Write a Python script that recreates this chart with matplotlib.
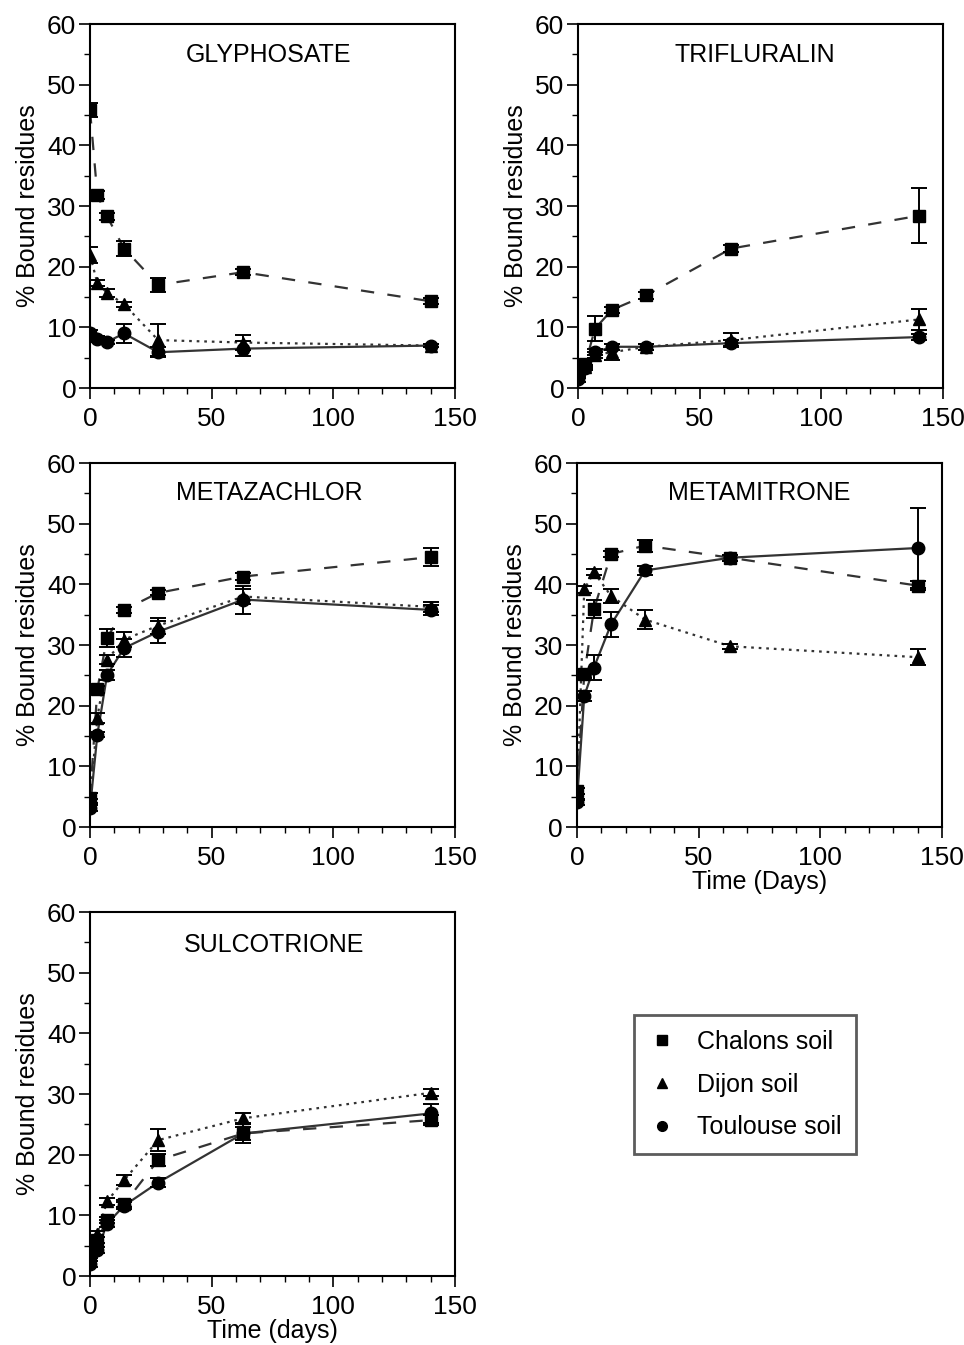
import numpy as np
import matplotlib
matplotlib.use('Agg')
import matplotlib.pyplot as plt
from matplotlib.lines import Line2D
from matplotlib.ticker import MultipleLocator

plt.rcParams['font.family'] = ['Liberation Sans', 'DejaVu Sans']

days = [0, 3, 7, 14, 28, 63, 140]
soils = ['Chalons soil', 'Dijon soil', 'Toulouse soil']

# GLYPHOSATE
gly_chalons = [45.8, 31.8, 28.3, 23.0, 17.0, 19.1, 14.3]
gly_chalons_err = [1.2, 0.6, 0.6, 1.2, 1.2, 0.5, 0.5]
gly_dijon = [21.9, 17.3, 15.7, 13.8, 7.9, 7.5, 7.0]
gly_dijon_err = [1.3, 0.5, 0.7, 0.4, 2.7, 1.2, 0.3]
gly_toulouse = [9.0, 8.1, 7.6, 9.0, 5.9, 6.5, 7.0]
gly_toulouse_err = [0.6, 0.5, 0.4, 1.5, 0.8, 1.2, 0.3]

# TRIFLURALIN
tri_chalons = [2.5, 4.0, 9.8, 12.9, 15.3, 23.0, 28.4]
tri_chalons_err = [0.5, 0.5, 2.1, 0.5, 0.6, 0.6, 4.5]
tri_dijon = [2.0, 3.5, 5.5, 5.9, 6.8, 7.9, 11.3]
tri_dijon_err = [0.3, 0.3, 0.5, 1.3, 0.5, 1.2, 1.7]
tri_toulouse = [1.5, 3.3, 5.9, 6.8, 6.8, 7.4, 8.4]
tri_toulouse_err = [0.5, 0.4, 0.5, 0.5, 0.5, 0.5, 0.5]

# METAZACHLOR
mz_chalons = [4.8, 22.7, 31.2, 35.8, 38.6, 41.3, 44.5]
mz_chalons_err = [0.8, 0.6, 1.5, 0.5, 0.4, 0.6, 1.5]
mz_dijon = [4.2, 18.0, 27.6, 30.9, 33.2, 38.0, 36.3]
mz_dijon_err = [0.5, 0.8, 0.8, 1.2, 1.3, 1.3, 0.8]
mz_toulouse = [3.1, 15.2, 25.1, 29.5, 32.2, 37.5, 35.8]
mz_toulouse_err = [0.5, 0.4, 0.8, 1.5, 1.8, 2.3, 0.8]

# METAMITRONE
mm_chalons = [5.9, 25.2, 35.9, 45.0, 46.4, 44.4, 39.8]
mm_chalons_err = [0.5, 0.6, 1.5, 0.5, 1.0, 0.5, 0.8]
mm_dijon = [5.0, 39.2, 42.0, 38.1, 34.2, 29.8, 28.0]
mm_dijon_err = [0.5, 0.6, 0.5, 1.2, 1.5, 0.4, 1.3]
mm_toulouse = [4.2, 21.6, 26.3, 33.4, 42.3, 44.4, 46.0]
mm_toulouse_err = [0.5, 0.8, 2.0, 2.0, 0.8, 0.5, 6.6]

# SULCOTRIONE
su_chalons = [3.5, 6.0, 9.2, 11.9, 19.1, 23.5, 25.7]
su_chalons_err = [0.5, 0.5, 0.5, 0.6, 1.0, 1.0, 0.8]
su_dijon = [4.0, 7.0, 12.3, 15.8, 22.4, 26.0, 30.2]
su_dijon_err = [0.5, 0.5, 0.6, 0.8, 1.8, 0.8, 0.6]
su_toulouse = [2.0, 4.3, 8.6, 11.6, 15.4, 23.5, 26.8]
su_toulouse_err = [0.5, 0.5, 0.6, 0.6, 0.8, 1.5, 1.5]

panels = [
    ('GLYPHOSATE', [gly_chalons, gly_dijon, gly_toulouse],
     [gly_chalons_err, gly_dijon_err, gly_toulouse_err],
     [0.0934, 0.7115], 0.49, 0.915, None),
    ('TRIFLURALIN', [tri_chalons, tri_dijon, tri_toulouse],
     [tri_chalons_err, tri_dijon_err, tri_toulouse_err],
     [0.5996, 0.7115], 0.485, 0.915, None),
    ('METAZACHLOR', [mz_chalons, mz_dijon, mz_toulouse],
     [mz_chalons_err, mz_dijon_err, mz_toulouse_err],
     [0.0934, 0.3851], 0.49, 0.918, None),
    ('METAMITRONE', [mm_chalons, mm_dijon, mm_toulouse],
     [mm_chalons_err, mm_dijon_err, mm_toulouse_err],
     [0.5985, 0.3851], 0.50, 0.918, 'Time (Days)'),
    ('SULCOTRIONE', [su_chalons, su_dijon, su_toulouse],
     [su_chalons_err, su_dijon_err, su_toulouse_err],
     [0.0934, 0.0513], 0.505, 0.909, 'Time (days)'),
]

markers = ['s', '^', 'o']
styles = [(0, (6, 6)), (0, (1.2, 2.2)), '-']
line_colors = ['#333333', '#333333', '#333333']

fig = plt.figure(figsize=(9.64, 13.45), dpi=100)
fs_tick = 19
fs = 18

for title, series, errs, pos, tx, ty, xlabel in panels:
    ax = fig.add_axes([pos[0], pos[1], 0.3786, 0.2706])
    for k in range(3):
        ax.plot(days, series[k], linestyle=styles[k], color=line_colors[k], lw=1.6)
        ax.errorbar(days, series[k], yerr=errs[k], fmt=markers[k], color='black',
                    ms=9, capsize=6, elinewidth=1.4, capthick=1.4, zorder=3)
    ax.set_xlim(0, 150)
    ax.set_ylim(0, 60)
    ax.xaxis.set_major_locator(MultipleLocator(50))
    ax.xaxis.set_minor_locator(MultipleLocator(10))
    ax.yaxis.set_major_locator(MultipleLocator(10))
    ax.yaxis.set_minor_locator(MultipleLocator(5))
    ax.tick_params(which='major', direction='out', length=8, width=1.2,
                   labelsize=fs_tick, pad=2)
    ax.tick_params(which='minor', direction='out', length=4.5, width=1.0)
    ax.tick_params(axis='x', which='major', pad=6)
    for sp in ax.spines.values():
        sp.set_linewidth(1.5)
    ax.set_ylabel('% Bound residues', fontsize=fs, labelpad=5)
    if xlabel:
        ax.set_xlabel(xlabel, fontsize=fs, labelpad=0)
    ax.text(tx, ty, title, transform=ax.transAxes, ha='center', va='center', fontsize=fs)

handles = [Line2D([], [], marker=m, color='black', linestyle='none', ms=7) for m in markers]
leg = fig.legend(handles, soils, loc='upper left', bbox_to_anchor=(0.658, 0.2455),
                 fontsize=fs, frameon=True, fancybox=False, handlelength=1.0,
                 handletextpad=0.9, labelspacing=0.75, borderpad=0.6, borderaxespad=0)
leg.get_frame().set_edgecolor('#333333')
leg.get_frame().set_linewidth(2.0)

fig.savefig('out.png', dpi=100)
